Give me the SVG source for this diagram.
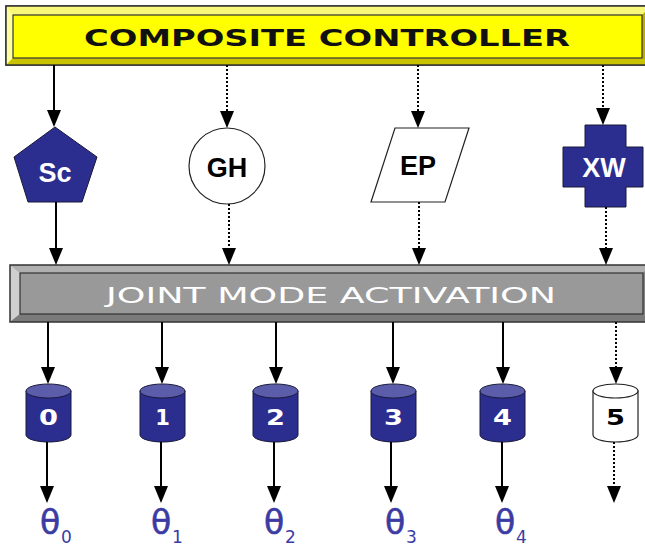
<svg xmlns="http://www.w3.org/2000/svg" width="645" height="546" viewBox="0 0 645 546">
<defs>
<marker id="ah" viewBox="0 -7 17 14" refX="15" refY="0" markerWidth="17" markerHeight="14" markerUnits="userSpaceOnUse" orient="auto">
<path d="M0,-7 L17,0 L0,7 Z" fill="#000"/>
</marker>
<style>
.solid{stroke:#000;stroke-width:2;fill:none;marker-end:url(#ah)}
.dot{stroke:#000;stroke-width:2;fill:none;stroke-dasharray:2 2;marker-end:url(#ah)}
.blue{fill:#2b2d8f;stroke:#1a1a3a;stroke-width:1}
.white{fill:#fff;stroke:#222;stroke-width:1.2}
.lbl{font-family:"Liberation Sans",Arial,sans-serif;font-weight:bold;font-size:27px;text-anchor:middle}
.cyltop{fill:#5b5dab;stroke:#1a1a3a;stroke-width:1}
.digit{font-family:"DejaVu Sans",sans-serif;font-weight:bold;font-size:21px}
.theta{font-family:"DejaVu Sans",sans-serif;fill:#3b3ba3}
.th{font-size:33px;stroke:#3b3ba3;stroke-width:0.6}
.sub{font-size:17px}
.edge{stroke:#333;stroke-width:1.2}
</style>
</defs>

<g id="composite-controller">
<rect x="6" y="6" width="645" height="59" fill="#ffff00" stroke="#333" stroke-width="1.5"/>
<polygon points="6,6 651,6 642,15 13,15" fill="#f7f77a"/>
<polygon points="6,6 13,15 13,58 6,65" fill="#ffffa0"/>
<polygon points="6,65 13,58 642,58 651,65" fill="#c8c200"/>
<polygon points="651,6 642,15 642,58 651,65" fill="#b5b000"/>
<rect x="13" y="15" width="629" height="43" fill="#ffff00" class="edge"/>
<rect x="6" y="6" width="645" height="59" fill="none" stroke="#333" stroke-width="1.5"/>
<text x="327" y="46" font-family="DejaVu Sans, sans-serif" font-weight="bold" font-size="23" text-anchor="middle" textLength="486" lengthAdjust="spacingAndGlyphs" fill="#111">COMPOSITE CONTROLLER</text>
</g>

<g id="sc">
<polygon class="blue" points="55,127 97,157 82,202 28,202 14,157"/>
<text class="lbl" x="55" y="182" fill="#fff">Sc</text>
</g>

<g id="gh">
<circle class="white" cx="227" cy="166" r="38"/>
<text class="lbl" x="227" y="177" fill="#000">GH</text>
</g>

<g id="ep">
<polygon class="white" points="395,128 469,128 445,202 371,202"/>
<text class="lbl" x="418" y="175" fill="#000">EP</text>
</g>

<g id="xw">
<polygon class="blue" points="585,125 626,125 626,147 643,147 643,187 626,187 626,207 585,207 585,187 563,187 563,147 585,147"/>
<text class="lbl" x="604" y="177" fill="#fff">XW</text>
</g>

<g id="joint-mode-activation">
<rect x="10" y="265" width="641" height="57" fill="#999"/>
<polygon points="10,265 651,265 643,273 20,273" fill="#b0b0b0"/>
<polygon points="10,265 20,273 20,314 10,322" fill="#cfcfcf"/>
<polygon points="10,322 20,314 643,314 651,322" fill="#7a7a7a"/>
<polygon points="651,265 643,273 643,314 651,322" fill="#858585"/>
<rect x="20" y="273" width="623" height="41" fill="#999" class="edge"/>
<rect x="10" y="265" width="641" height="57" fill="none" stroke="#333" stroke-width="1.5"/>
<text x="331" y="303" font-family="DejaVu Sans, sans-serif" font-size="22" text-anchor="middle" textLength="450" lengthAdjust="spacingAndGlyphs" fill="#fff">JOINT MODE ACTIVATION</text>
</g>

<g id="joint-0">
<path class="blue" d="M26,391 V435 A22.5,7 0 0 0 71,435 V391 Z"/>
<ellipse class="cyltop" cx="48.5" cy="391" rx="22.5" ry="7"/>
<text class="digit" x="39" y="425" textLength="19" lengthAdjust="spacingAndGlyphs" fill="#fff">0</text>
</g>
<g id="joint-1">
<path class="blue" d="M140,391 V435 A22.5,7 0 0 0 185,435 V391 Z"/>
<ellipse class="cyltop" cx="162.5" cy="391" rx="22.5" ry="7"/>
<text class="digit" x="162.5" y="425" text-anchor="middle" fill="#fff">1</text>
</g>
<g id="joint-2">
<path class="blue" d="M253,391 V435 A22.5,7 0 0 0 298,435 V391 Z"/>
<ellipse class="cyltop" cx="275.5" cy="391" rx="22.5" ry="7"/>
<text class="digit" x="266" y="425" textLength="19" lengthAdjust="spacingAndGlyphs" fill="#fff">2</text>
</g>
<g id="joint-3">
<path class="blue" d="M371,391 V435 A22.5,7 0 0 0 416,435 V391 Z"/>
<ellipse class="cyltop" cx="393.5" cy="391" rx="22.5" ry="7"/>
<text class="digit" x="384" y="425" textLength="19" lengthAdjust="spacingAndGlyphs" fill="#fff">3</text>
</g>
<g id="joint-4">
<path class="blue" d="M480,391 V435 A22.5,7 0 0 0 525,435 V391 Z"/>
<ellipse class="cyltop" cx="502.5" cy="391" rx="22.5" ry="7"/>
<text class="digit" x="493" y="425" textLength="19" lengthAdjust="spacingAndGlyphs" fill="#fff">4</text>
</g>
<g id="joint-5">
<path class="white" d="M593,391 V435 A22.5,7 0 0 0 638,435 V391 Z"/>
<ellipse class="white" cx="615.5" cy="391" rx="22.5" ry="7"/>
<text class="digit" x="606" y="425" textLength="19" lengthAdjust="spacingAndGlyphs" fill="#000">5</text>
</g>

<g id="outputs">
<text class="theta th" x="40" y="534">θ</text>
<text class="theta sub" x="61" y="543">0</text>
<text class="theta th" x="151" y="534">θ</text>
<text class="theta sub" x="172" y="543">1</text>
<text class="theta th" x="264" y="534">θ</text>
<text class="theta sub" x="285" y="543">2</text>
<text class="theta th" x="385" y="534">θ</text>
<text class="theta sub" x="406" y="543">3</text>
<text class="theta th" x="495" y="534">θ</text>
<text class="theta sub" x="516" y="543">4</text>
</g>

<g id="connectors">
<line class="solid" x1="54" y1="65" x2="54" y2="125"/>
<line class="dot" x1="227" y1="65" x2="227" y2="126"/>
<line class="dot" x1="418" y1="65" x2="418" y2="126"/>
<line class="dot" x1="603" y1="65" x2="603" y2="123"/>

<line class="solid" x1="56" y1="202" x2="56" y2="263"/>
<line class="dot" x1="229" y1="204" x2="229" y2="263"/>
<line class="dot" x1="419" y1="202" x2="419" y2="263"/>
<line class="dot" x1="606" y1="207" x2="606" y2="263"/>

<line class="solid" x1="48" y1="322" x2="48" y2="382"/>
<line class="solid" x1="162" y1="322" x2="162" y2="382"/>
<line class="solid" x1="276" y1="322" x2="276" y2="382"/>
<line class="solid" x1="393" y1="322" x2="393" y2="382"/>
<line class="solid" x1="503" y1="322" x2="503" y2="382"/>
<line class="dot" x1="616" y1="322" x2="616" y2="382"/>

<line class="solid" x1="47" y1="442" x2="47" y2="501"/>
<line class="solid" x1="161" y1="442" x2="161" y2="501"/>
<line class="solid" x1="274" y1="442" x2="274" y2="501"/>
<line class="solid" x1="391" y1="442" x2="391" y2="501"/>
<line class="solid" x1="502" y1="442" x2="502" y2="501"/>
<line class="dot" x1="614" y1="442" x2="614" y2="501"/>
</g>
</svg>
